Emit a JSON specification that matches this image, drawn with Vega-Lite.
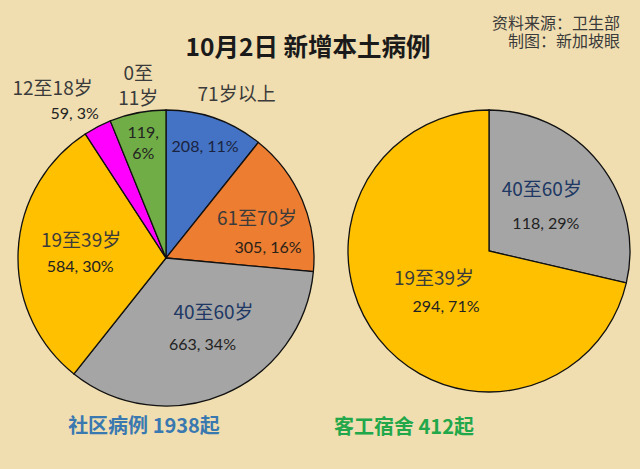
{
  "$schema": "https://vega.github.io/schema/vega-lite/v6.json",
  "background": "#f0deb0",
  "padding": {"left": 12, "top": 15, "right": 15, "bottom": 40},
  "spacing": 34,
  "bounds": "flush",
  "resolve": {"scale": {"theta": "independent", "color": "independent"}},
  "hconcat": [
    {
      "width": 296,
      "height": 296,
      "title": {"text": "10月2日 新增本土病例", "anchor": "middle", "frame": "group", "dx": 142, "offset": 3, "font": "Noto Sans CJK SC", "fontSize": 24.5, "fontWeight": "bold", "color": "#1a1a1a"},
      "layer": [
        {
          "data": {"values": [
            {"cat": "71岁以上", "name": "71岁以上", "n": 208, "label": "208, 11%", "idx": 1},
            {"cat": "61至70岁", "name": "61至70岁", "n": 305, "label": "305, 16%", "idx": 2},
            {"cat": "40至60岁", "name": "40至60岁", "n": 663, "label": "663, 34%", "idx": 3},
            {"cat": "19至39岁", "name": "19至39岁", "n": 584, "label": "584, 30%", "idx": 4},
            {"cat": "12至18岁", "name": "12至18岁", "n": 59, "label": "59, 3%", "idx": 5},
            {"cat": "0至11岁", "name": "0至\n11岁", "n": 119, "label": "119,\n6%", "idx": 6}
          ]},
          "encoding": {
            "theta": {"field": "n", "type": "quantitative", "stack": true},
            "order": {"field": "idx", "type": "quantitative"}
          },
          "layer": [
            {"mark": {"type": "arc", "stroke": "#111111", "strokeWidth": 1.3},
             "encoding": {"color": {"field": "cat", "type": "nominal", "legend": null,
               "scale": {"domain": ["71岁以上", "61至70岁", "40至60岁", "19至39岁", "12至18岁", "0至11岁"],
                         "range": ["#4472c4", "#ed7d31", "#a5a5a5", "#ffc000", "#ff00ff", "#70ad47"]}}}},
            {"mark": {"type": "text", "radius": 118, "font": "Lato", "fontSize": 16, "color": "#1a2440"},
             "encoding": {"text": {"condition": {"test": "datum.idx == 1", "field": "label"}, "value": ""}}},
            {"mark": {"type": "text", "radius": 150, "dx": 21, "dy": -21, "font": "Noto Sans CJK SC", "fontSize": 19, "color": "#3b3b3b"},
             "encoding": {"text": {"condition": {"test": "datum.idx == 1", "field": "name"}, "value": ""}}},
            {"mark": {"type": "text", "radius": 100, "dx": -1, "dy": 0, "font": "Noto Sans CJK SC", "fontSize": 19, "color": "#3b3b3b"},
             "encoding": {"text": {"condition": {"test": "datum.idx == 2", "field": "name"}, "value": ""}}},
            {"mark": {"type": "text", "radius": 100, "dx": 10, "dy": 29, "font": "Lato", "fontSize": 16, "color": "#2a2218"},
             "encoding": {"text": {"condition": {"test": "datum.idx == 2", "field": "label"}, "value": ""}}},
            {"mark": {"type": "text", "radius": 70, "dx": 20, "dy": -9, "font": "Noto Sans CJK SC", "fontSize": 19, "color": "#203864"},
             "encoding": {"text": {"condition": {"test": "datum.idx == 3", "field": "name"}, "value": ""}}},
            {"mark": {"type": "text", "radius": 70, "dx": 9, "dy": 23, "font": "Lato", "fontSize": 16, "color": "#222222"},
             "encoding": {"text": {"condition": {"test": "datum.idx == 3", "field": "label"}, "value": ""}}},
            {"mark": {"type": "text", "radius": 85, "dx": 0, "dy": -13, "font": "Noto Sans CJK SC", "fontSize": 19, "color": "#3b3b3b"},
             "encoding": {"text": {"condition": {"test": "datum.idx == 4", "field": "name"}, "value": ""}}},
            {"mark": {"type": "text", "radius": 85, "dx": -1, "dy": 13, "font": "Lato", "fontSize": 16, "color": "#222222"},
             "encoding": {"text": {"condition": {"test": "datum.idx == 4", "field": "label"}, "value": ""}}},
            {"mark": {"type": "text", "radius": 70, "dx": -81, "dy": -107, "font": "Noto Sans CJK SC", "fontSize": 19, "color": "#3b3b3b"},
             "encoding": {"text": {"condition": {"test": "datum.idx == 5", "field": "name"}, "value": ""}}},
            {"mark": {"type": "text", "radius": 100, "dx": -45, "dy": -55, "font": "Lato", "fontSize": 16, "color": "#222222"},
             "encoding": {"text": {"condition": {"test": "datum.idx == 5", "field": "label"}, "value": ""}}},
            {"mark": {"type": "text", "radius": 150, "dx": 1, "dy": -37, "lineBreak": "\n", "lineHeight": 25, "font": "Noto Sans CJK SC", "fontSize": 19, "color": "#3b3b3b"},
             "encoding": {"text": {"condition": {"test": "datum.idx == 6", "field": "name"}, "value": ""}}},
            {"mark": {"type": "text", "radius": 119, "dy": -8, "lineBreak": "\n", "lineHeight": 21, "font": "Lato", "fontSize": 16, "color": "#222222"},
             "encoding": {"text": {"condition": {"test": "datum.idx == 6", "field": "label"}, "value": ""}}}
          ]
        },
        {
          "data": {"values": [{"caption": "社区病例 1938起"}]},
          "mark": {"type": "text", "dx": -22, "dy": 169, "font": "Noto Sans CJK SC", "fontSize": 20, "fontWeight": "bold", "color": "#3a78b0"},
          "encoding": {"text": {"field": "caption"}}
        }
      ]
    },
    {
      "width": 282,
      "height": 282,
      "title": {"text": ["资料来源：卫生部", "制图：新加坡眼"], "anchor": "end", "frame": "group", "dx": -10, "offset": 57, "lineHeight": 18.5, "font": "Noto Sans CJK SC", "fontSize": 16, "fontWeight": "normal", "color": "#3a3a3a"},
      "layer": [
        {
          "data": {"values": [
            {"cat": "40至60岁", "name": "40至60岁", "n": 118, "label": "118, 29%", "idx": 1},
            {"cat": "19至39岁", "name": "19至39岁", "n": 294, "label": "294, 71%", "idx": 2}
          ]},
          "encoding": {
            "theta": {"field": "n", "type": "quantitative", "stack": true},
            "order": {"field": "idx", "type": "quantitative"}
          },
          "layer": [
            {"mark": {"type": "arc", "stroke": "#111111", "strokeWidth": 1.3},
             "encoding": {"color": {"field": "cat", "type": "nominal", "legend": null,
               "scale": {"domain": ["40至60岁", "19至39岁"], "range": ["#a5a5a5", "#ffc000"]}}}},
            {"mark": {"type": "text", "radius": 70, "dx": -2, "dy": -17, "font": "Noto Sans CJK SC", "fontSize": 19, "color": "#203864"},
             "encoding": {"text": {"condition": {"test": "datum.idx == 1", "field": "name"}, "value": ""}}},
            {"mark": {"type": "text", "radius": 70, "dx": 2, "dy": 17, "font": "Lato", "fontSize": 16, "color": "#222222"},
             "encoding": {"text": {"condition": {"test": "datum.idx == 1", "field": "label"}, "value": ""}}},
            {"mark": {"type": "text", "radius": 60, "dx": -8, "dy": -9, "font": "Noto Sans CJK SC", "fontSize": 19, "color": "#3b3b3b"},
             "encoding": {"text": {"condition": {"test": "datum.idx == 2", "field": "name"}, "value": ""}}},
            {"mark": {"type": "text", "radius": 60, "dx": 4, "dy": 19, "font": "Lato", "fontSize": 16, "color": "#222222"},
             "encoding": {"text": {"condition": {"test": "datum.idx == 2", "field": "label"}, "value": ""}}}
          ]
        },
        {
          "data": {"values": [{"caption": "客工宿舍 412起"}]},
          "mark": {"type": "text", "dx": -85, "dy": 177, "font": "Noto Sans CJK SC", "fontSize": 20, "fontWeight": "bold", "color": "#22a84a"},
          "encoding": {"text": {"field": "caption"}}
        }
      ]
    }
  ],
  "config": {"view": {"stroke": null}, "font": "Noto Sans CJK SC"}
}
